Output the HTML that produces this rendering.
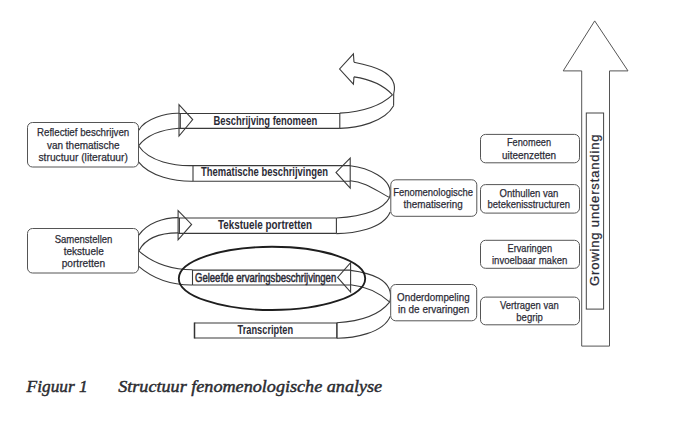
<!DOCTYPE html>
<html><head><meta charset="utf-8">
<style>
html,body{margin:0;padding:0;background:#fff;width:684px;height:432px;overflow:hidden}
svg{display:block}
.ln{fill:none;stroke:#3a3a3a;stroke-width:1.1}
.bx{fill:#fff;stroke:#555;stroke-width:1}
.t{font-family:"Liberation Sans",sans-serif;font-size:11.5px;fill:#2b2b36;stroke:#2b2b36;stroke-width:0.25px}
.b{font-family:"Liberation Sans",sans-serif;font-size:12.2px;font-weight:bold;fill:#2b2b36}
.cap{font-family:"Liberation Serif",serif;font-style:italic;font-size:17px;fill:#2b2b30;stroke:#2b2b30;stroke-width:0.45px}
</style></head>
<body>
<svg width="684" height="432" viewBox="0 0 684 432">
<!-- ribbon bands -->
<g class="ln">
<!-- top turn -->
<path d="M354.0 62.2 C369.4 65.3 399.7 71.4 393.7 93.7 L393.6 105.8"/>
<path d="M354.0 76.9 C368.2 78.9 382.5 84.2 392.5 94.8"/>
<path d="M392.5 94.8 C378.6 107.9 358.2 112.0 339.8 113.1"/>
<path d="M393.6 105.8 C384.6 122.3 357.0 128.0 339.8 128.4"/>
<path d="M354 62.2 L353.4 53.8 L339.6 69 L353.4 84.1 L354 76.9"/>
<!-- band1 -->
<path d="M179 113.5 H339.8 M179 128.4 H339.8 M339.8 113.1 V128.4 M180.3 113.5 V128.4"/>
<path d="M179 104.6 V136.1 L192.7 119.6 Z"/>
<!-- left turn 1 -->
<path d="M138.8 130.2 C144.9 118.4 166.4 112.9 179 113.3"/>
<path d="M138.5 145.8 C148.0 133.6 164.1 129.4 179 128.3"/>
<path d="M138.5 145.8 C149.2 162.0 175.2 166.2 193.0 165.6"/>
<path d="M138.5 161.8 C149.8 176.6 175.5 181.5 193.0 181.2"/>
<!-- band2 -->
<path d="M193 165.6 H350.2 M193 181.2 H350.2 M193 165.6 V181.2"/>
<path d="M350.2 158 V188 L336 172.4 Z"/>
<!-- right turn 1 -->
<path d="M350.2 165.7 C365.1 167.3 394.9 177.6 389.6 197.5"/>
<path d="M350.2 180.8 C365.4 181.6 376.8 191.0 389.6 197.5"/>
<path d="M389.6 197.5 C380.9 214.1 352.8 217.0 336.4 218.0"/>
<path d="M390.2 212.0 C382.8 229.4 353.0 233.5 336.4 233.6"/>
<!-- band3 -->
<path d="M178.1 218 H336.4 M178.1 233.4 H336.4 M336.4 218 V233.4 M179.4 218 V233.4"/>
<path d="M178.1 210.6 V239.8 L191.6 224.4 Z"/>
<!-- left turn 2 -->
<path d="M138.8 235.1 C147.6 222.8 163.6 217.7 178.1 217.6"/>
<path d="M138.8 250.9 C146.2 236.5 163.4 232.9 178.1 232.9"/>
<path d="M138.7 250.9 C153.5 263.8 173.1 269.7 192.5 269.8"/>
<path d="M138.7 266.4 C153.5 279.1 173.1 285.2 192.5 285.0"/>
<!-- band4 -->
<path d="M192.5 270.1 H350.6 M192.5 285 H350.6 M192.5 269.8 V285"/>
<path d="M350.6 262.6 V292 L337.6 277.4 Z"/>
<!-- right turn 2 -->
<path d="M350.6 270.4 C367.6 272.6 395.6 278.7 389.8 302.2"/>
<path d="M350.6 284.8 C364.9 286.3 379.1 292.6 389.8 302.2"/>
<path d="M389.6 302.2 C377.2 317.9 355.7 321.7 336.9 322.8"/>
<path d="M390.2 316.4 C383.3 333.3 353.1 338.2 336.9 338.2"/>
<!-- band5 -->
<path d="M194.5 323 H336.9 M194.5 338 H336.9"/>
</g>
<path d="M336.9 322.8 V338.2 M194.5 322.5 V338.5" stroke="#333" stroke-width="1.5" fill="none"/>

<!-- ellipse -->
<ellipse cx="272" cy="278.4" rx="93.2" ry="31.6" fill="none" stroke="#1e1e1e" stroke-width="1.85"/>

<!-- left boxes -->
<rect class="bx" x="27.5" y="122.5" width="111" height="44.5" rx="5"/>
<rect class="bx" x="27.5" y="228.5" width="111" height="44.5" rx="5"/>
<!-- middle boxes -->
<rect class="bx" x="390.8" y="179.8" width="86" height="36.5" rx="5"/>
<rect class="bx" x="390.7" y="284.5" width="86" height="36.3" rx="5"/>
<!-- right boxes -->
<rect class="bx" x="480.5" y="134.4" width="99" height="28.4" rx="5"/>
<rect class="bx" x="480.5" y="184.6" width="99" height="28.5" rx="5"/>
<rect class="bx" x="480.5" y="240.3" width="99" height="28" rx="5"/>
<rect class="bx" x="480.5" y="297.1" width="99" height="27.7" rx="5"/>

<!-- big arrow -->
<path d="M594.7 20.9 L628 70.9 H609.5 V346.1 H581.7 V70.9 H563.2 Z" fill="#fff" stroke="#555" stroke-width="1"/>
<rect x="586.3" y="113" width="17.3" height="196.1" fill="#fff" stroke="#444" stroke-width="1"/>
<text class="t" transform="translate(598.5,286) rotate(-90)" x="0" y="0" style="font-size:13px" textLength="151.5" lengthAdjust="spacing">Growing understanding</text>

<!-- texts -->
<text class="t" x="37" y="136.4" textLength="92.2" lengthAdjust="spacingAndGlyphs">Reflectief beschrijven</text>
<text class="t" x="47" y="148.8" textLength="72.6" lengthAdjust="spacingAndGlyphs">van thematische</text>
<text class="t" x="38.5" y="161.2" textLength="89.4" lengthAdjust="spacingAndGlyphs">structuur (literatuur)</text>

<text class="t" x="54.7" y="242.9" textLength="57.7" lengthAdjust="spacingAndGlyphs">Samenstellen</text>
<text class="t" x="63.7" y="255" textLength="40.1" lengthAdjust="spacingAndGlyphs">tekstuele</text>
<text class="t" x="61.7" y="266.6" textLength="43.4" lengthAdjust="spacingAndGlyphs">portretten</text>

<text class="t" x="393.2" y="196.2" textLength="79.8" lengthAdjust="spacingAndGlyphs">Fenomenologische</text>
<text class="t" x="403.5" y="208.4" textLength="59.2" lengthAdjust="spacingAndGlyphs">thematisering</text>

<text class="t" x="397.1" y="300.8" textLength="72.5" lengthAdjust="spacingAndGlyphs">Onderdompeling</text>
<text class="t" x="398.1" y="312.7" textLength="71.3" lengthAdjust="spacingAndGlyphs">in de ervaringen</text>

<text class="t" x="507" y="146.4" textLength="44" lengthAdjust="spacingAndGlyphs">Fenomeen</text>
<text class="t" x="502" y="158.6" textLength="54.1" lengthAdjust="spacingAndGlyphs">uiteenzetten</text>
<text class="t" x="499.6" y="196.6" textLength="58.8" lengthAdjust="spacingAndGlyphs">Onthullen van</text>
<text class="t" x="487.6" y="208.1" textLength="82.4" lengthAdjust="spacingAndGlyphs">betekenisstructuren</text>
<text class="t" x="507.5" y="251.6" textLength="44.6" lengthAdjust="spacingAndGlyphs">Ervaringen</text>
<text class="t" x="492" y="263.5" textLength="75.3" lengthAdjust="spacingAndGlyphs">invoelbaar maken</text>
<text class="t" x="499.9" y="308.7" textLength="58.8" lengthAdjust="spacingAndGlyphs">Vertragen van</text>
<text class="t" x="516.3" y="320.7" textLength="26.5" lengthAdjust="spacingAndGlyphs">begrip</text>

<text class="b" x="213.4" y="124.5" textLength="103.9" lengthAdjust="spacingAndGlyphs">Beschrijving fenomeen</text>
<text class="b" x="201.1" y="176" textLength="126.9" lengthAdjust="spacingAndGlyphs">Thematische beschrijvingen</text>
<text class="b" x="218" y="228.8" textLength="94.1" lengthAdjust="spacingAndGlyphs">Tekstuele portretten</text>
<text class="t" style="font-size:12px;stroke-width:0.5px" x="195" y="282" textLength="141.2" lengthAdjust="spacingAndGlyphs">Geleefde ervaringsbeschrijvingen</text>
<text class="b" x="237.6" y="334" textLength="55.5" lengthAdjust="spacingAndGlyphs">Transcripten</text>

<!-- caption -->
<text class="cap" x="26.6" y="392" textLength="61.2" lengthAdjust="spacingAndGlyphs">Figuur 1</text>
<text class="cap" x="118.2" y="392" textLength="264" lengthAdjust="spacingAndGlyphs">Structuur fenomenologische analyse</text>
</svg>
</body></html>
